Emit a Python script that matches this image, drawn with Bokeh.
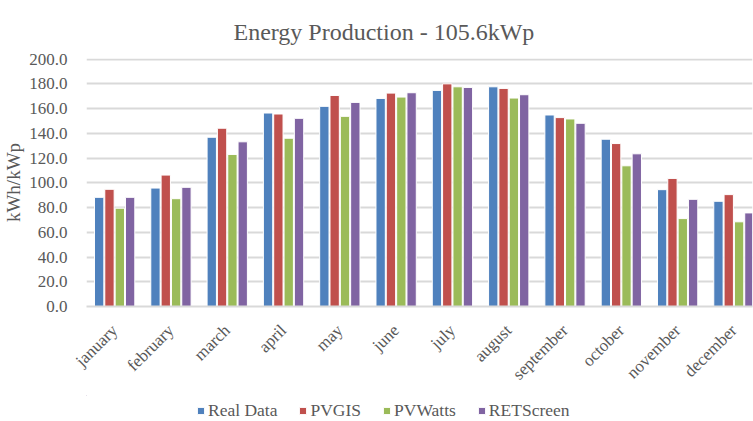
import numpy as np
from bokeh.plotting import figure
from bokeh.layouts import column
from bokeh.models import (ColumnDataSource, Range1d, FixedTicker, NumeralTickFormatter,
                          Legend, LegendItem)
from bokeh.transform import dodge
from bokeh.embed import file_html
from bokeh.resources import INLINE

months = ["january", "february", "march", "april", "may", "june", "july",
          "august", "september", "october", "november", "december"]
real_data = [88.3, 95.8, 136.9, 156.5, 161.9, 168.3, 174.8, 177.7, 154.9, 135.3, 94.5, 85.1]
pvgis = [94.8, 106.3, 144.2, 155.7, 170.7, 172.6, 180.1, 176.4, 152.8, 131.8, 103.6, 90.5]
pvwatts = [79.5, 87.2, 123.0, 136.1, 153.8, 169.4, 177.7, 168.6, 151.7, 113.8, 71.1, 68.5]
retscreen = [88.3, 96.4, 133.2, 152.2, 165.1, 172.9, 177.2, 171.3, 148.2, 123.5, 86.7, 75.7]

series_names = ["Real Data", "PVGIS", "PVWatts", "RETScreen"]
colors = ["#4F81BD", "#C0504D", "#9BBB59", "#8064A2"]
title_text = "Energy Production - 105.6kWp"

FONT = "Liberation Serif"
GRAY = "#595959"

xc = np.arange(len(months)) + 0.5
src = ColumnDataSource(dict(x=xc, real=real_data, pvgis=pvgis, pvwatts=pvwatts, ret=retscreen))
keys = ["real", "pvgis", "pvwatts", "ret"]
offsets = [-0.275, -0.092, 0.092, 0.275]

# ---- main chart ----
p = figure(width=753, height=395, output_backend="svg", toolbar_location=None,
           x_range=Range1d(0, 11.83), y_range=Range1d(0, 200.6),
           min_border_left=86, min_border_right=1, min_border_top=58, min_border_bottom=89)
p.outline_line_color = None
p.background_fill_color = "white"
p.border_fill_color = "white"

for k, off, c in zip(keys, offsets, colors):
    p.vbar(x=dodge("x", off), top=k, width=0.166, bottom=0, source=src,
           fill_color=c, line_color="white", line_width=1)

p.title.text = title_text
p.title.text_font = FONT
p.title.text_font_size = "24px"
p.title.text_font_style = "normal"
p.title.text_color = GRAY
p.title.align = "left"
p.title.offset = 147
p.title.standoff = 27

yax = p.yaxis[0]
yax.ticker = FixedTicker(ticks=list(range(0, 201, 20)))
yax.formatter = NumeralTickFormatter(format="0.0")
yax.axis_line_color = None
yax.major_tick_line_color = None
yax.minor_tick_line_color = None
yax.major_label_text_font = FONT
yax.major_label_text_font_size = "17px"
yax.major_label_text_color = GRAY
yax.major_label_standoff = 13
yax.axis_label = "kWh/kWp"
yax.axis_label_text_font = FONT
yax.axis_label_text_font_size = "19px"
yax.axis_label_text_font_style = "normal"
yax.axis_label_text_color = GRAY
yax.axis_label_standoff = 2

xax = p.xaxis[0]
xax.ticker = FixedTicker(ticks=list(xc))
xax.major_label_overrides = {float(v): m for v, m in zip(xc, months)}
xax.axis_line_color = "#D9D9D9"
xax.axis_line_width = 2
xax.major_tick_line_color = None
xax.minor_tick_line_color = None
xax.major_label_orientation = np.pi / 4
xax.major_label_text_font = FONT
xax.major_label_text_font_size = "17px"
xax.major_label_text_color = GRAY
xax.major_label_standoff = 15

p.xgrid.grid_line_color = None
p.ygrid.grid_line_color = "#D9D9D9"
p.ygrid.grid_line_width = 2
p.ygrid.ticker = FixedTicker(ticks=list(range(20, 201, 20)))

# ---- legend strip (bars here lie outside its visible range; only the legend shows) ----
lf = figure(width=753, height=26, output_backend="svg", toolbar_location=None,
            x_range=Range1d(100, 101), y_range=Range1d(-20, -10),
            x_axis_location=None, y_axis_location=None, min_border=0)
lf.outline_line_color = None
lf.xgrid.visible = False
lf.ygrid.visible = False
leg_renderers = []
for k, off, c in zip(keys, offsets, colors):
    r = lf.vbar(x=dodge("x", off), top=k, width=0.166, bottom=0, source=src,
                fill_color=c, line_color="white", line_width=1)
    leg_renderers.append(r)

legend = Legend(items=[LegendItem(label=n, renderers=[r]) for n, r in zip(series_names, leg_renderers)],
                orientation="horizontal", location=(110, 0),
                label_text_font=FONT, label_text_font_size="17.5px", label_text_color=GRAY,
                glyph_width=9, glyph_height=9, spacing=21, label_standoff=3,
                padding=0, margin=0, border_line_color=None, background_fill_alpha=0)
lf.add_layout(legend, "center")

layout = column(p, lf, spacing=0)
open("out.html", "w").write(file_html(layout, INLINE))
